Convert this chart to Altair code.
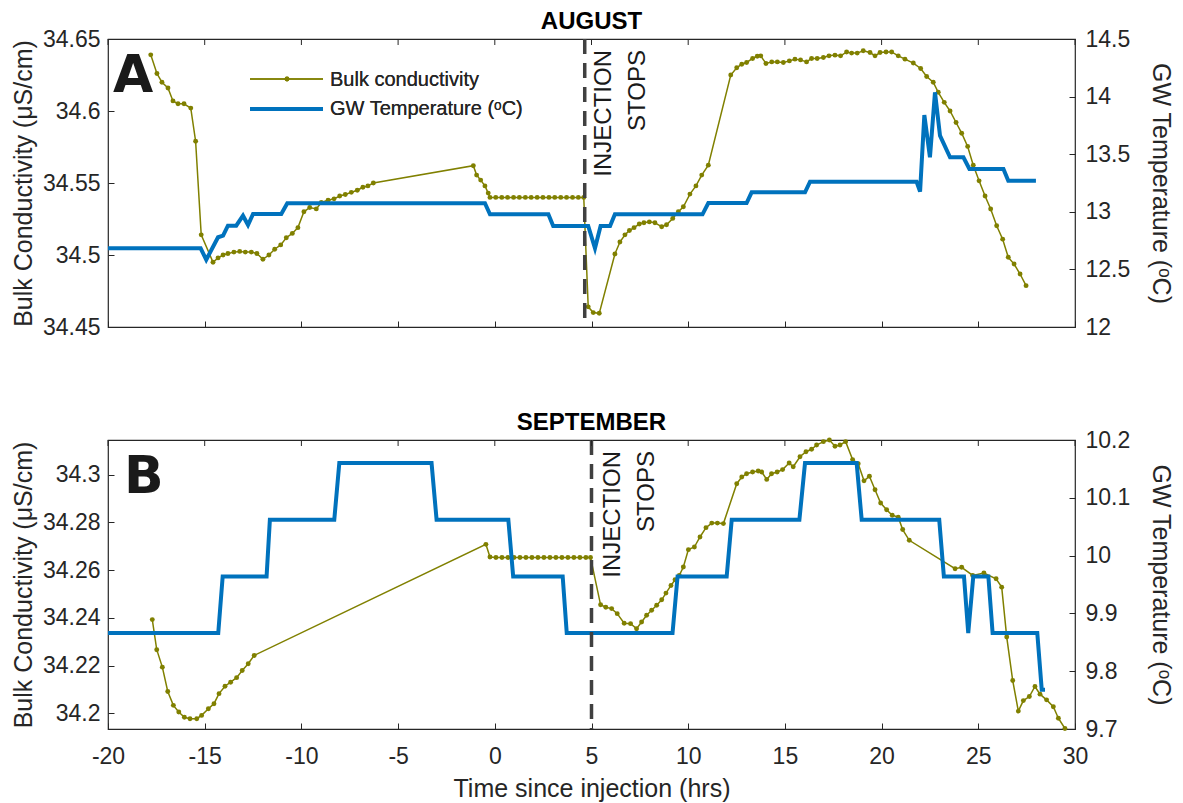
import altair as alt
import pandas as pd

# ---------------- data ----------------
x_ticks = [-20, -15, -10, -5, 0, 5, 10, 15, 20, 25, 30]

# AUGUST: bulk conductivity
aug_cond_t = [-17.79, -17.47, -17.21, -16.90, -16.64, -16.38, -16.07, -15.72, -15.47, -15.18,
              -14.57, -14.31, -14.05, -13.80, -13.49, -13.19, -12.90, -12.59, -12.30, -11.99,
              -11.68, -11.38, -11.07, -10.78, -10.47, -10.18, -9.87, -9.57, -9.23, -8.97,
              -8.62, -8.31, -8.02, -7.73, -7.42, -7.11, -6.82, -6.56, -6.28, -1.11,
              -0.94, -0.73, -0.51, -0.34, -0.25, 0.05, 0.36, 0.66, 0.97, 1.27,
              1.58, 1.88, 2.19, 2.49, 2.80, 3.10, 3.41, 3.71, 4.02, 4.32,
              4.60, 4.83, 5.09, 5.40, 6.21, 6.47, 6.73, 6.96, 7.20, 7.47,
              7.71, 7.99, 8.28, 8.63, 8.88, 9.20, 9.49, 9.75, 10.09, 10.40,
              10.70, 11.04, 12.20, 12.51, 12.77, 13.02, 13.33, 13.57, 13.75, 14.02,
              14.32, 14.61, 14.92, 15.23, 15.52, 15.81, 16.12, 16.38, 16.67, 16.99,
              17.28, 17.59, 17.88, 18.19, 18.45, 18.74, 19.05, 19.40, 19.66, 19.92,
              20.23, 20.52, 20.86, 21.21, 21.64, 22.02, 22.33, 22.67, 22.93, 23.24,
              23.54, 23.85, 24.14, 24.45, 24.74, 25.04, 25.35, 25.64, 25.95, 26.26,
              26.55, 26.85, 27.16, 27.47]
aug_cond_v = [34.639, 34.626, 34.620, 34.616, 34.607, 34.605, 34.605, 34.602, 34.579, 34.514,
              34.495, 34.498, 34.500, 34.501, 34.502, 34.5025, 34.502, 34.502, 34.501, 34.497,
              34.500, 34.504, 34.507, 34.512, 34.515, 34.519, 34.530, 34.533, 34.532, 34.5365,
              34.538, 34.539, 34.541, 34.542, 34.5435, 34.545, 34.547, 34.548, 34.550, 34.562,
              34.5555, 34.552, 34.548, 34.543, 34.540, 34.540, 34.540, 34.540, 34.540, 34.540,
              34.540, 34.540, 34.540, 34.540, 34.540, 34.540, 34.540, 34.540, 34.540, 34.540,
              34.540, 34.464, 34.460, 34.4595, 34.5007, 34.509, 34.514, 34.517, 34.519, 34.5215,
              34.5224, 34.523, 34.5224, 34.5196, 34.521, 34.5254, 34.530, 34.5335, 34.5423, 34.548,
              34.5555, 34.5624, 34.625, 34.630, 34.6325, 34.6337, 34.6365, 34.638, 34.6383, 34.633,
              34.6341, 34.6341, 34.6337, 34.6348, 34.636, 34.6355, 34.6341, 34.6365, 34.6365, 34.6372,
              34.6383, 34.6388, 34.6383, 34.641, 34.6402, 34.6402, 34.6418, 34.6406, 34.6383, 34.6406,
              34.641, 34.641, 34.6383, 34.636, 34.6333, 34.6295, 34.624, 34.620, 34.613, 34.606,
              34.600, 34.592, 34.5846, 34.5754, 34.5624, 34.5515, 34.541, 34.5319, 34.5203, 34.511,
              34.4984, 34.4937, 34.4868, 34.4787]

# AUGUST: groundwater temperature
aug_temp_t = [-20.0, -15.21, -14.92, -14.31, -14.05, -13.80, -13.37, -13.02, -12.76, -12.50,
              -11.04, -10.73, -0.51, -0.25, 2.77, 3.02, 4.83, 5.18, 5.47, 5.96,
              6.21, 10.74, 11.04, 13.02, 13.28, 16.04, 16.30, 21.81, 21.99, 22.21,
              22.50, 22.76, 23.02, 23.54, 24.23, 24.54, 26.30, 26.55, 27.98]
aug_temp_v = [12.683, 12.683, 12.584, 12.779, 12.793, 12.879, 12.879, 12.966, 12.885, 12.981,
              12.981, 13.074, 13.074, 12.978, 12.978, 12.877, 12.877, 12.683, 12.877, 12.877,
              12.978, 12.978, 13.076, 13.076, 13.169, 13.169, 13.261, 13.261, 13.175, 13.840,
              13.473, 14.037, 13.661, 13.473, 13.473, 13.372, 13.372, 13.270, 13.270]

# SEPTEMBER: bulk conductivity
sep_cond_t = [-17.71, -17.48, -17.19, -16.91, -16.62, -16.34, -16.05, -15.76, -15.41, -15.16,
              -14.81, -14.52, -14.26, -13.95, -13.66, -13.35, -13.06, -12.75, -12.44, -0.46,
              -0.25, 0.06, 0.37, 0.68, 0.99, 1.30, 1.61, 1.92, 2.23, 2.54,
              2.85, 3.16, 3.47, 3.78, 4.09, 4.40, 4.71, 4.95, 5.47, 5.74,
              6.04, 6.33, 6.69, 7.02, 7.33, 7.59, 7.85, 8.11, 8.37, 8.63,
              8.85, 9.11, 9.32, 9.54, 9.75, 10.01, 10.32, 10.61, 10.92, 11.22,
              11.51, 11.82, 12.51, 12.77, 13.02, 13.33, 13.62, 13.80, 14.06, 14.31,
              14.60, 14.88, 15.22, 15.43, 15.78, 16.09, 16.38, 16.64, 16.99, 17.30,
              17.59, 17.85, 18.14, 18.50, 18.79, 19.09, 19.37, 19.66, 19.95, 20.26,
              20.55, 20.86, 21.09, 21.43, 23.80, 24.14, 24.71, 25.29, 25.92, 26.21,
              26.47, 26.78, 27.07, 27.33, 27.64, 27.93, 28.19, 28.53, 28.88, 29.14,
              29.48]
sep_cond_v = [34.2393, 34.2267, 34.2194, 34.2092, 34.2034, 34.2006, 34.1984, 34.1978, 34.1978, 34.1992,
              34.2020, 34.2041, 34.2083, 34.2114, 34.2131, 34.2150, 34.2180, 34.2208, 34.2243, 34.2708,
              34.2655, 34.2653, 34.2653, 34.2653, 34.2653, 34.2653, 34.2653, 34.2653, 34.2653, 34.2653,
              34.2653, 34.2653, 34.2653, 34.2653, 34.2653, 34.2653, 34.2653, 34.2653, 34.2455, 34.2445,
              34.2439, 34.2418, 34.2378, 34.2376, 34.2355, 34.2383, 34.2411, 34.2432, 34.2453, 34.2476,
              34.2504, 34.2536, 34.2560, 34.2578, 34.2613, 34.2686, 34.2697, 34.2739, 34.2778, 34.2797,
              34.2797, 34.2795, 34.2962, 34.2990, 34.3004, 34.3011, 34.3015, 34.3011, 34.2980, 34.3004,
              34.3011, 34.3021, 34.3049, 34.3033, 34.3075, 34.3096, 34.3106, 34.3124, 34.3138, 34.3145,
              34.3119, 34.3124, 34.3138, 34.3063, 34.3046, 34.2974, 34.2993, 34.2937, 34.2881, 34.2853,
              34.2830, 34.2822, 34.2770, 34.2725, 34.2606, 34.2612, 34.2578, 34.2588, 34.2564, 34.2529,
              34.2320, 34.2138, 34.2010, 34.2054, 34.2071, 34.2113, 34.2081, 34.2057, 34.2028, 34.1980,
              34.1937]

# SEPTEMBER: groundwater temperature
sep_temp_t = [-20.0, -14.30, -14.07, -11.80, -11.63, -8.30, -8.04, -3.27, -3.01, 0.70,
              0.95, 3.51, 3.72, 9.19, 9.45, 11.99, 12.25, 15.75, 16.04, 18.71,
              18.97, 22.98, 23.22, 24.26, 24.48, 24.74, 25.52, 25.74, 28.05, 28.28,
              28.45]
sep_temp_v = [9.866, 9.866, 9.964, 9.964, 10.062, 10.062, 10.160, 10.160, 10.062, 10.062,
              9.964, 9.964, 9.866, 9.866, 9.964, 9.964, 10.062, 10.062, 10.160, 10.160,
              10.062, 10.062, 9.964, 9.964, 9.866, 9.964, 9.964, 9.866, 9.866, 9.768,
              9.768]

aug_injection_stop = [4.65]
sep_injection_stop = [5.0]

aug_cond_ticks = [34.45, 34.5, 34.55, 34.6, 34.65]
aug_temp_ticks = [12, 12.5, 13, 13.5, 14, 14.5]
sep_cond_ticks = [34.2, 34.22, 34.24, 34.26, 34.28, 34.3]
sep_temp_ticks = [9.7, 9.8, 9.9, 10.0, 10.1, 10.2]

aug_cond_domain = [34.45, 34.65]
aug_temp_domain = [12, 14.5]
sep_cond_domain = [34.1935, 34.3145]
sep_temp_domain = [9.7, 10.2]

legend_labels = ["Bulk conductivity", "GW Temperature (ᵒC)"]

# ---------------- styling ----------------
FONT = "Liberation Sans"
AX = "#262626"
OLIVE = "#808000"
BLUE = "#0072BD"
DASH = "#404040"
W = 967


def x_enc(show_labels):
    return alt.X(
        "t:Q",
        scale=alt.Scale(domain=[-20, 30], nice=False, zero=False),
        title="Time since injection (hrs)" if show_labels else None,
        axis=alt.Axis(
            values=x_ticks, labels=show_labels, grid=False, domain=False,
            ticks=True, tickSize=6, offset=-6, tickColor=AX, labelColor=AX,
            labelFont=FONT, labelFontSize=23, labelPadding=16, labelFlush=False,
            labelExpr="'' + datum.value",
            titleFont=FONT, titleFontSize=25, titleFontWeight="normal",
            titleColor=AX, titlePadding=8,
        ),
    )


def y_axis(orient, values, fmt, title, tpad, lpad):
    return alt.Axis(
        orient=orient, values=values, format=fmt, title=title, grid=False,
        domain=False, ticks=True, tickSize=6, offset=-6, tickColor=AX,
        labelColor=AX, labelFont=FONT, labelFontSize=23, labelPadding=lpad,
        titleFont=FONT, titleFontSize=25, titleFontWeight="normal",
        titleColor=AX, titlePadding=tpad,
    )


def panel(cond_t, cond_v, temp_t, temp_v, cdom, cticks, cfmt, tdom, tticks,
          inj, title, letter, letter_x, show_x, inj_dy, height, legend):
    cdf = pd.DataFrame({"t": cond_t, "c": cond_v})
    tdf = pd.DataFrame({"t": temp_t, "T": temp_v})
    idf = pd.DataFrame({"t": inj})
    kdf = pd.DataFrame({"t": x_ticks})
    xe = x_enc(show_x)

    cond = alt.Chart(cdf).mark_line(
        color=OLIVE, strokeWidth=1.5,
        point=alt.OverlayMarkDef(filled=True, color=OLIVE, size=24, opacity=1),
    ).encode(
        x=xe,
        y=alt.Y("c:Q", scale=alt.Scale(domain=cdom, nice=False, zero=False),
                axis=y_axis("left", cticks, cfmt, "Bulk Conductivity (μS/cm)", 6, 8)),
    )
    temp = alt.Chart(tdf).mark_line(color=BLUE, strokeWidth=4).encode(
        x=xe,
        y=alt.Y("T:Q", scale=alt.Scale(domain=tdom, nice=False, zero=False),
                axis=y_axis("right", tticks, ".1~f", "GW Temperature (ᵒC)", 18, 10)),
    )
    rule = alt.Chart(idf).mark_rule(color=DASH, strokeWidth=3.5, strokeDash=[15, 9]).encode(x=xe)
    txt = alt.Chart(idf).mark_text(
        text=["INJECTION", "STOPS"], angle=270, align="right", baseline="top",
        font=FONT, fontSize=24, lineHeight=34, color="#1a1a1a", dy=inj_dy,
    ).encode(x=xe, y=alt.value(11))
    top_ticks = alt.Chart(kdf).mark_rule(color=AX, strokeWidth=1).encode(
        x=xe, y=alt.value(0), y2=alt.value(6))
    let = alt.Chart(idf).mark_text(
        text=letter, font="DejaVu Sans", fontSize=52, fontWeight="bold",
        align="left", baseline="alphabetic", color="#1a1a1a",
    ).encode(x=alt.value(letter_x), y=alt.value(53))

    layers = [cond, temp, rule, txt, top_ticks, let]
    if legend:
        ldf = pd.DataFrame({"label": legend_labels})
        l1 = alt.Chart(ldf).mark_rule(color=OLIVE, strokeWidth=1.5).encode(
            x=alt.value(142), x2=alt.value(215), y=alt.value(40))
        l1p = alt.Chart(ldf).mark_circle(color=OLIVE, size=24, opacity=1).encode(
            x=alt.value(179), y=alt.value(40))
        l2 = alt.Chart(ldf).mark_rule(color=BLUE, strokeWidth=4).encode(
            x=alt.value(142), x2=alt.value(215), y=alt.value(70))
        t1 = alt.Chart(ldf).mark_text(
            text=legend_labels[0], align="left", baseline="middle", font=FONT,
            fontSize=20, color=AX).encode(x=alt.value(222), y=alt.value(41))
        t2 = alt.Chart(ldf).mark_text(
            text=legend_labels[1], align="left", baseline="middle", font=FONT,
            fontSize=20, color=AX).encode(x=alt.value(222), y=alt.value(70))
        layers += [l1, l1p, l2, t1, t2]

    return alt.layer(*layers).resolve_scale(y="independent").properties(
        width=W, height=height,
        title=alt.TitleParams(title, font=FONT, fontSize=24, fontWeight="bold",
                              color="#000000", offset=-6, anchor="middle"),
    )


pa = panel(aug_cond_t, aug_cond_v, aug_temp_t, aug_temp_v, aug_cond_domain,
           aug_cond_ticks, ".2~f", aug_temp_domain, aug_temp_ticks,
           aug_injection_stop, "AUGUST", "A", 5, False, 7, 288, True)
pb = panel(sep_cond_t, sep_cond_v, sep_temp_t, sep_temp_v, sep_cond_domain,
           sep_cond_ticks, ".2~f", sep_temp_domain, sep_temp_ticks,
           sep_injection_stop, "SEPTEMBER", "B", 16, True, 9, 289, False)

chart = alt.vconcat(pa, pb, spacing=70).properties(
    padding={"left": 10, "top": 9, "right": 5, "bottom": 5},
    background="white",
).configure_view(stroke=AX, strokeWidth=1.2)

chart.save("out.html", embed_options={"renderer": "svg", "actions": False})
